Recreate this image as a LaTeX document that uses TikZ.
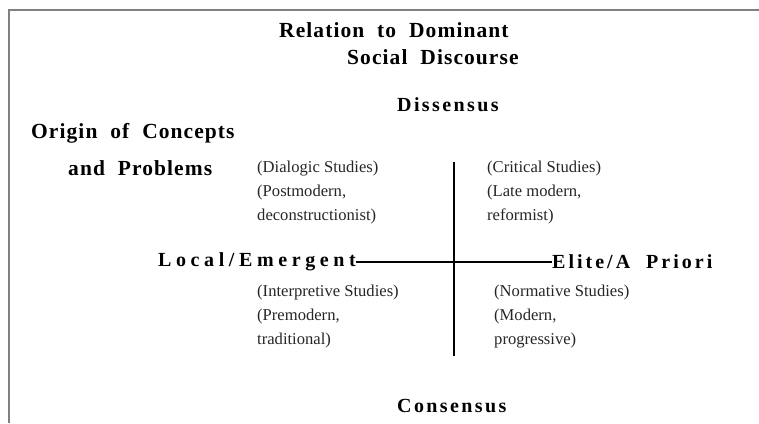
\documentclass[tikz,border=0pt]{standalone}
\usepackage{fontspec}
\setmainfont{Liberation Serif}
\newfontfamily\spaced[LetterSpace=12]{Liberation Serif}
\newfontfamily\espaced[LetterSpace=15]{Liberation Serif}
\newfontfamily\wspaced[LetterSpace=23]{Liberation Serif}
\newfontfamily\mspaced[LetterSpace=5]{Liberation Serif}
\begin{document}
\begin{tikzpicture}[x=1pt,y=-1pt,
  head/.style={inner sep=0pt,anchor=west,font=\fontsize{21.5}{24}\selectfont\bfseries\mspaced},
  axis/.style={inner sep=0pt,anchor=west,font=\fontsize{20}{24}\selectfont\bfseries\spaced},
  eaxis/.style={inner sep=0pt,anchor=west,font=\fontsize{20}{24}\selectfont\bfseries\espaced},
  waxis/.style={inner sep=0pt,anchor=west,font=\fontsize{20}{24}\selectfont\bfseries\wspaced},
  cell/.style={inner sep=0pt,anchor=north west,align=left,font=\fontsize{16.6}{24}\selectfont,text=black!85},
  frame/.style={draw=black!50,line width=1.2pt},
  bar/.style={draw=black,line width=1.6pt}]
\useasboundingbox (0,0) rectangle (759,423);
\draw[frame] (9,423) -- (9,10) -- (759,10);
\node[head] (rel) at (279,30) {Relation\ \ to\ \ Dominant};
\node[head] (soc) at (347,57) {Social\ \ Discourse};
\node[axis] (dis) at (397,105) {Dissensus};
\node[head] (ori) at (31,133) {Origin\ \ of\ \ Concepts};
\node[head] (prob) at (68,168) {and\ \ Problems};
\node[cell] (dia) at (257,161) {(Dialogic Studies)\\(Postmodern,\\deconstructionist)};
\node[cell] (cri) at (487,161) {(Critical Studies)\\(Late modern,\\reformist)};
\node[waxis] (loc) at (158,262) {Local/Emergent};
\node[eaxis] (eli) at (552,262) {Elite/A\ \ Priori};
\node[cell] (int) at (257,285) {(Interpretive Studies)\\(Premodern,\\traditional)};
\node[cell] (nor) at (494,285) {(Normative Studies)\\(Modern,\\progressive)};
\node[axis] (con) at (397,406) {Consensus};
\coordinate (top) at (454,162);
\coordinate (bot) at (454,356);
\draw[bar] (top) -- (bot);
\draw[bar] (loc.east) -- (eli.west);
\end{tikzpicture}
\end{document}
